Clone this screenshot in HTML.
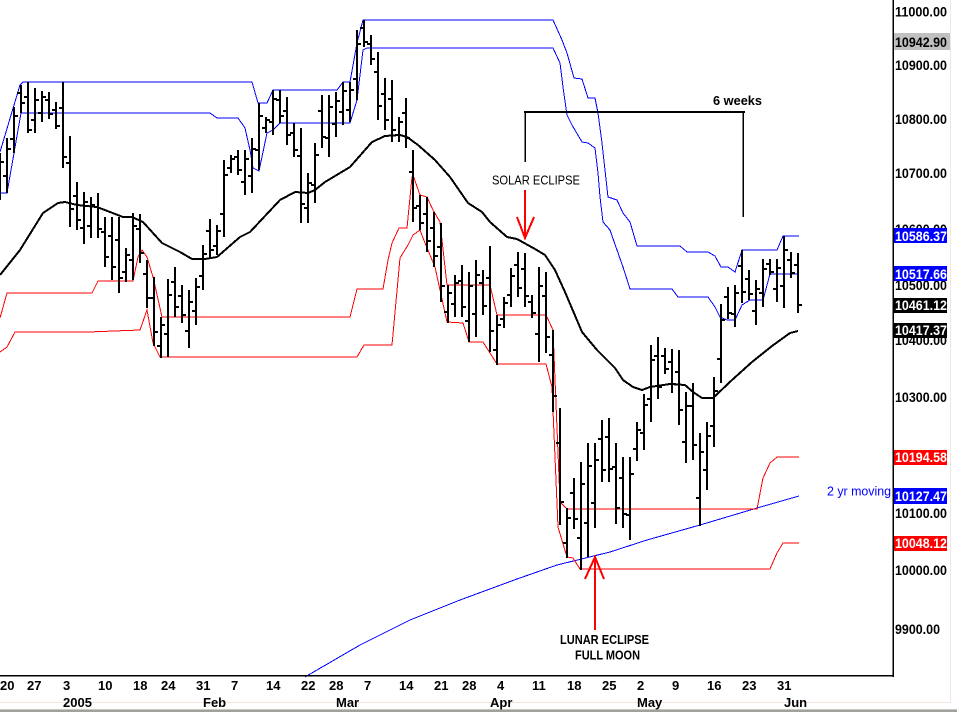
<!DOCTYPE html>
<html>
<head>
<meta charset="utf-8">
<style>
html,body{margin:0;padding:0;background:#fff;}
svg{display:block;}
text{font-family:"Liberation Sans",Arial,sans-serif;}
</style>
</head>
<body>
<svg width="957" height="712" viewBox="0 0 957 712" xmlns="http://www.w3.org/2000/svg">
<rect x="0" y="0" width="957" height="712" fill="#fff"/>

<!-- frame -->
<rect x="950" y="0" width="1" height="703" fill="#f2e6de"/>
<rect x="0" y="702" width="951" height="1" fill="#f2e6de"/>
<rect x="0" y="709" width="957" height="1" fill="#c8c8c4"/>
<rect x="0" y="710" width="957" height="2" fill="#a0a09c"/>

<g fill="none" shape-rendering="crispEdges">
<!-- 2 yr moving -->
<polyline stroke="#0000ff" stroke-width="1" points="305,677 360,645 410,620 460,600 517,579 557,565 610,552 647,540 700,525 757,508 799,496"/>
<!-- blue upper channels -->
<polyline stroke="#0000ff" stroke-width="1" points="0,152 20,85 23,82 252,82 258,103 267,103 273,90 337,90 343,82 350,82 357,43 363,20 553,20 562,40 567,53 574,78 582,79 588,98 595,98 598,113 602,143 608,197 617,200 623,213 630,222 637,246 680,246 687,252 708,252 715,256 721,267 728,267 735,272 742,250 777,250 783,236 799,236"/>
<polyline stroke="#0000ff" stroke-width="1" points="0,193 7,193 21,113 210,113 217,118 238,118 245,128 250,150 253,168 259,171 267,133 273,130 280,123 350,123 357,100 363,50 367,48 553,48 560,63 563,87 567,115 572,125 582,142 588,143 595,148 598,173 600,197 603,222 610,230 617,250 623,267 630,289 672,289 678,297 708,297 715,307 720,317 727,320 735,320 742,305 750,300 763,300 770,274 799,274"/>
<!-- red lower channels -->
<polyline stroke="#ff0000" stroke-width="1" points="0,318 7,293 92,293 98,281 133,281 138,257 142,250 147,257 153,277 162,317 350,317 357,289 383,289 388,260 392,243 399,228 407,228 412,177 413,175 420,195 427,197 433,210 440,222 447,285 490,285 497,315 546,315 553,330 560,502 567,509 757,509 763,478 770,463 777,457 799,457"/>
<polyline stroke="#ff0000" stroke-width="1" points="0,352 7,347 15,332 88,332 140,330 147,310 153,343 160,357 357,357 364,345 392,345 400,258 408,245 413,235 420,230 425,243 435,267 447,322 463,323 469,342 483,342 497,364 546,364 552,387 558,527 567,557 573,558 580,569 770,569 777,553 783,543 799,543"/>
<!-- moving average -->
<polyline stroke="#000" stroke-width="2" stroke-linejoin="round" points="0,275 20,250 43,213 58,203 65,202 77,205 97,207 110,212 123,217 132,217 143,222 162,243 180,252 192,259 205,259 217,257 240,237 250,232 280,200 295,192 308,193 315,190 325,182 350,167 372,142 385,136 400,135 407,137 418,145 435,160 450,177 468,203 482,212 490,222 507,237 517,239 535,249 545,255 555,270 565,292 582,332 597,350 615,368 623,380 633,387 642,390 650,387 670,384 685,385 693,392 702,398 713,398 732,380 752,362 772,346 790,333 798,331"/>

<!-- bars -->
<path stroke="#000" stroke-width="2" d="M0 153V200M7 138V193M14 107V153M21 85V113M28 82V133M35 88V133M42 91V122M49 92V119M56 102V129M63 82V168M70 136V227M77 182V230M84 192V244M91 197V238M98 193V238M105 217V267M112 217V280M119 217V293M126 248V282M133 213V280M140 214V263M147 260V308M154 277V346M161 317V358M168 279V357M175 267V317M182 285V323M189 290V348M196 278V325M203 245V290M210 219V258M217 225V255M224 160V237M231 155V173M238 150V175M245 150V195M252 138V193M259 103V170M266 117V133M273 90V135M280 90V123M287 97V145M294 123V157M301 128V223M308 173V223M315 143V203M322 95V148M329 95V157M336 92V137M343 82V125M350 82V122M357 30V100M364 20V47M371 35V65M378 52V120M385 78V130M392 80V142M399 117V142M406 98V148M413 150V222M420 195V230M427 197V252M434 212V267M441 223V302M448 285V323M455 275V317M462 265V317M469 272V342M476 260V337M483 270V315M490 246V352M497 315V365M504 297V328M511 268V307M518 252V297M525 253V307M532 295V318M539 267V362M546 272V353M553 330V412M560 408V525M567 508V558M574 478V529M581 462V570M588 443V557M595 443V528M602 420V482M609 418V482M616 443V524M623 457V528M630 457V540M637 422V461M644 394V450M651 345V422M658 337V399M665 348V374M672 349V393M679 350V425M686 392V463M693 383V460M700 433V526M707 422V490M714 377V447M721 304V383M728 287V319M735 285V327M742 250V303M749 270V300M756 280V325M763 259V307M770 259V275M777 259V302M784 236V308M791 252V278M798 253V313"/>
<!-- open/close ticks -->
<path stroke="#000" stroke-width="2" d="M-4 186h3M1 162h3M3 176h3M8 149h3M10 139h3M15 116h3M17 93h3M22 103h3M24 97h3M29 130h3M31 120h3M36 100h3M38 113h3M43 97h3M45 100h3M50 114h3M52 110h3M57 126h3M59 108h3M64 157h3M66 163h3M71 209h3M73 196h3M78 220h3M80 228h3M85 202h3M87 226h3M92 205h3M94 207h3M99 229h3M101 232h3M106 257h3M108 236h3M113 267h3M115 240h3M120 278h3M122 272h3M127 255h3M129 260h3M134 226h3M136 229h3M141 253h3M143 274h3M148 298h3M150 298h3M155 332h3M157 346h3M162 325h3M164 334h3M169 295h3M171 282h3M176 307h3M178 296h3M183 315h3M185 331h3M190 302h3M192 311h3M197 287h3M199 276h3M204 254h3M206 231h3M211 250h3M213 246h3M218 231h3M220 214h3M225 175h3M227 168h3M232 159h3M234 157h3M239 170h3M241 182h3M246 159h3M248 176h3M253 149h3M255 150h3M260 116h3M262 128h3M267 120h3M269 122h3M274 99h3M276 100h3M281 116h3M283 111h3M288 135h3M290 133h3M295 150h3M297 156h3M302 204h3M304 208h3M309 183h3M311 185h3M316 155h3M318 111h3M323 137h3M325 138h3M330 107h3M332 124h3M337 101h3M339 112h3M344 91h3M346 110h3M351 90h3M353 79h3M358 44h3M360 28h3M365 42h3M367 44h3M372 59h3M374 72h3M379 106h3M381 94h3M386 120h3M388 99h3M393 130h3M395 135h3M400 122h3M402 113h3M407 138h3M409 172h3M414 208h3M416 206h3M421 223h3M423 214h3M428 241h3M430 228h3M435 256h3M437 247h3M442 286h3M444 312h3M449 293h3M451 304h3M456 283h3M458 281h3M463 307h3M465 321h3M470 286h3M472 314h3M477 275h3M479 283h3M484 306h3M486 278h3M491 331h3M493 350h3M498 325h3M500 319h3M505 303h3M507 295h3M512 276h3M514 265h3M519 288h3M521 269h3M526 296h3M528 302h3M533 313h3M535 334h3M540 286h3M542 296h3M547 337h3M549 355h3M554 396h3M556 443h3M561 502h3M563 543h3M568 518h3M570 493h3M575 519h3M577 538h3M582 484h3M584 523h3M589 466h3M591 503h3M596 460h3M598 439h3M603 470h3M605 437h3M610 469h3M612 467h3M617 508h3M619 478h3M624 514h3M626 515h3M631 474h3M633 449h3M638 430h3M640 433h3M645 405h3M647 399h3M652 360h3M654 356h3M659 387h3M661 356h3M666 369h3M668 362h3M673 384h3M675 372h3M680 410h3M682 442h3M687 406h3M689 406h3M694 445h3M696 498h3M701 452h3M703 470h3M708 436h3M710 426h3M715 391h3M717 359h3M722 320h3M724 297h3M729 313h3M731 314h3M736 293h3M738 266h3M743 292h3M745 279h3M750 294h3M752 311h3M757 289h3M759 293h3M764 269h3M766 264h3M771 272h3M773 289h3M778 268h3M780 286h3M785 250h3M787 260h3M792 273h3M794 265h3M799 305h3"/>

<!-- 6 weeks bracket -->
<path stroke="#000" stroke-width="2" d="M524 112H745"/>
<path stroke="#000" stroke-width="1.5" d="M525 112V162M743 112V217"/>

<!-- arrows -->
<path stroke="#ff0000" stroke-width="2" d="M525 190V238M517 217L525 238L534 217"/>
<path stroke="#ff0000" stroke-width="2" d="M595 630V557M585 579L595 557L604 579"/>
</g>

<!-- axes -->
<rect x="892.5" y="0" width="1.5" height="677" fill="#000"/>
<rect x="0" y="675" width="894" height="1.5" fill="#000"/>

<!-- annotation texts -->
<text x="713" y="105" font-size="13" font-weight="bold" fill="#000" textLength="49" lengthAdjust="spacingAndGlyphs">6 weeks</text>
<text x="492" y="184.5" font-size="12.5" fill="#000" textLength="88" lengthAdjust="spacingAndGlyphs">SOLAR ECLIPSE</text>
<text x="560" y="644" font-size="12.5" font-weight="bold" fill="#000" textLength="89" lengthAdjust="spacingAndGlyphs">LUNAR ECLIPSE</text>
<text x="575" y="659.5" font-size="12.5" font-weight="bold" fill="#000" textLength="65" lengthAdjust="spacingAndGlyphs">FULL MOON</text>
<text x="827" y="495.5" font-size="12.5" fill="#0000ff" textLength="64" lengthAdjust="spacingAndGlyphs">2 yr moving</text>

<!-- right axis labels -->
<g font-size="13.5" font-weight="bold" fill="#000">
<text x="895" y="16.5" textLength="52" lengthAdjust="spacingAndGlyphs">11000.00</text>
<text x="895" y="70" textLength="52" lengthAdjust="spacingAndGlyphs">10900.00</text>
<text x="895" y="124" textLength="52" lengthAdjust="spacingAndGlyphs">10800.00</text>
<text x="895" y="178" textLength="52" lengthAdjust="spacingAndGlyphs">10700.00</text>
<text x="895" y="234" textLength="52" lengthAdjust="spacingAndGlyphs">10600.00</text>
<text x="895" y="290" textLength="52" lengthAdjust="spacingAndGlyphs">10500.00</text>
<text x="895" y="345" textLength="52" lengthAdjust="spacingAndGlyphs">10400.00</text>
<text x="895" y="402" textLength="52" lengthAdjust="spacingAndGlyphs">10300.00</text>
<text x="895" y="518" textLength="52" lengthAdjust="spacingAndGlyphs">10100.00</text>
<text x="895" y="575" textLength="52" lengthAdjust="spacingAndGlyphs">10000.00</text>
<text x="895" y="634" textLength="45" lengthAdjust="spacingAndGlyphs">9900.00</text>
</g>

<!-- highlighted value boxes -->
<rect x="894" y="33" width="56" height="17" fill="#c0c0c0"/>
<rect x="894" y="228" width="53" height="15" fill="#0000ff"/>
<rect x="894" y="266" width="53" height="15" fill="#0000ff"/>
<rect x="894" y="298" width="53" height="15" fill="#000"/>
<rect x="894" y="323" width="53" height="15" fill="#000"/>
<rect x="894" y="450" width="53" height="15" fill="#ff0000"/>
<rect x="894" y="488" width="53" height="16" fill="#0000ff"/>
<rect x="894" y="536" width="53" height="15" fill="#ff0000"/>
<g font-size="13.5" font-weight="bold">
<text x="895" y="47" fill="#000" textLength="52" lengthAdjust="spacingAndGlyphs">10942.90</text>
<text x="895" y="241" fill="#fff" textLength="52" lengthAdjust="spacingAndGlyphs">10586.37</text>
<text x="895" y="279" fill="#fff" textLength="52" lengthAdjust="spacingAndGlyphs">10517.66</text>
<text x="895" y="310" fill="#fff" textLength="52" lengthAdjust="spacingAndGlyphs">10461.12</text>
<text x="895" y="335" fill="#fff" textLength="52" lengthAdjust="spacingAndGlyphs">10417.37</text>
<text x="895" y="462" fill="#fff" textLength="52" lengthAdjust="spacingAndGlyphs">10194.58</text>
<text x="895" y="501" fill="#fff" textLength="52" lengthAdjust="spacingAndGlyphs">10127.47</text>
<text x="895" y="548" fill="#fff" textLength="52" lengthAdjust="spacingAndGlyphs">10048.12</text>
</g>

<!-- bottom axis labels -->
<g font-size="13" font-weight="bold" fill="#000">
<text x="0" y="690">20</text>
<text x="27" y="690">27</text>
<text x="63" y="690">3</text>
<text x="98" y="690">10</text>
<text x="133" y="690">18</text>
<text x="161" y="690">24</text>
<text x="196" y="690">31</text>
<text x="231" y="690">7</text>
<text x="266" y="690">14</text>
<text x="301" y="690">22</text>
<text x="329" y="690">28</text>
<text x="364" y="690">7</text>
<text x="399" y="690">14</text>
<text x="434" y="690">21</text>
<text x="462" y="690">28</text>
<text x="497" y="690">4</text>
<text x="532" y="690">11</text>
<text x="567" y="690">18</text>
<text x="602" y="690">25</text>
<text x="637" y="690">2</text>
<text x="672" y="690">9</text>
<text x="707" y="690">16</text>
<text x="742" y="690">23</text>
<text x="777" y="690">31</text>
<text x="63" y="707">2005</text>
<text x="203" y="707">Feb</text>
<text x="336" y="707">Mar</text>
<text x="490" y="707">Apr</text>
<text x="637" y="707">May</text>
<text x="784" y="707">Jun</text>
</g>
</svg>
</body>
</html>
